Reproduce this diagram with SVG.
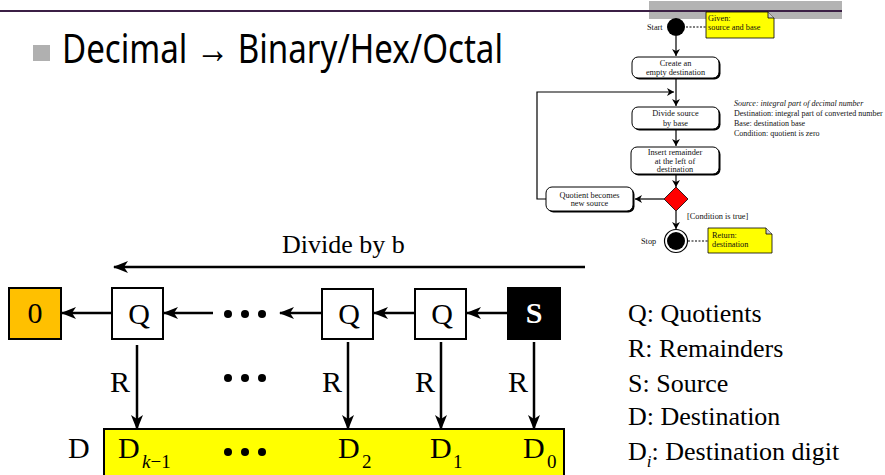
<svg xmlns="http://www.w3.org/2000/svg" width="885" height="475" viewBox="0 0 885 475">
  <style>
    .fc-text { font-family: "Liberation Serif", serif; font-size: 8.3px; fill: #111; }
    .fc-note { font-family: "Liberation Serif", serif; font-size: 8px; fill: #111; }
    .fc-box { fill: #fff; stroke: #000; stroke-width: 1; }
    .fc-shadow { fill: #000; }
    .fc-line { stroke: #000; stroke-width: 1.2; fill: none; }
    .note { fill: #ffff00; stroke: #000; stroke-width: 0.8; }
    .label { font-family: "Liberation Serif", serif; font-size: 26px; fill: #000; }
    .big { font-family: "Liberation Serif", serif; font-size: 30px; fill: #000; }
    .sub { font-family: "Liberation Serif", serif; font-size: 19px; fill: #000; }
    .box { fill: #fff; stroke: #000; stroke-width: 2; }
    .conn { stroke: #000; stroke-width: 2.5; fill: none; }
    .dot { fill: #000; }
  </style>
  <defs>
    <marker id="arrow" markerUnits="userSpaceOnUse" markerWidth="15" markerHeight="12" refX="14" refY="6" orient="auto">
      <path d="M0,0 L15,6 L0,12 L4,6 z" fill="#000"/>
    </marker>
    <marker id="fcArrow" markerUnits="userSpaceOnUse" markerWidth="8" markerHeight="8" refX="7" refY="4" orient="auto">
      <path d="M0,0 L7,4 L0,8 L2,4 z" fill="#000"/>
    </marker>
  </defs>

  <rect width="885" height="475" fill="#fff"/>

  <!-- header band -->
  <rect x="649" y="1" width="193" height="18" fill="#b3b3b3"/>
  <line x1="0" y1="11" x2="842" y2="11" stroke="#3b1f45" stroke-width="2"/>

  <!-- title -->
  <rect x="33" y="45" width="17" height="16" fill="#b0b0b0"/>
  <text x="62" y="63" font-family="'Noto Sans', sans-serif" font-size="40" textLength="441" lengthAdjust="spacingAndGlyphs" fill="#000">Decimal → Binary/Hex/Octal</text>

  <!-- flowchart -->
  <g id="fc-connectors">
    <line class="fc-line" x1="686" y1="27" x2="706" y2="27" stroke-dasharray="2,1.5"/>
    <line class="fc-line" x1="676" y1="36" x2="676" y2="56" marker-end="url(#fcArrow)"/>
    <line class="fc-line" x1="676" y1="79" x2="676" y2="106" marker-end="url(#fcArrow)"/>
    <polyline class="fc-line" points="546,199 537,199 537,92 674,92" marker-end="url(#fcArrow)"/>
    <line class="fc-line" x1="676" y1="130" x2="676" y2="146" marker-end="url(#fcArrow)"/>
    <line class="fc-line" x1="676" y1="175" x2="676" y2="187" marker-end="url(#fcArrow)"/>
    <line class="fc-line" x1="664" y1="199" x2="635" y2="199" marker-end="url(#fcArrow)"/>
    <line class="fc-line" x1="676" y1="211" x2="676" y2="229" marker-end="url(#fcArrow)"/>
    <line class="fc-line" x1="688" y1="241" x2="708" y2="241" stroke-dasharray="2,1.5"/>
  </g>

  <g id="fc-start">
    <circle cx="676" cy="27" r="9" fill="#000"/>
    <text class="fc-text" x="647" y="30">Start</text>
  </g>
  <g id="fc-note-given">
    <path class="note" d="M706,12 L768,12 L774,18 L774,38 L706,38 z"/>
    <path d="M768,12 L768,18 L774,18" fill="#ccc" stroke="#000" stroke-width="0.8"/>
    <text class="fc-text" x="708" y="21">Given:</text>
    <text class="fc-text" x="708" y="30">source and base</text>
  </g>
  <g id="fc-create">
    <rect class="fc-shadow" x="633.5" y="58.5" width="87" height="21" rx="6"/>
    <rect class="fc-box" x="632" y="57" width="87" height="21" rx="6"/>
    <text class="fc-text" x="675.5" y="66" text-anchor="middle">Create an</text>
    <text class="fc-text" x="675.5" y="75" text-anchor="middle">empty destination</text>
  </g>
  <g id="fc-divide">
    <rect class="fc-shadow" x="633.5" y="108.5" width="87" height="22" rx="6"/>
    <rect class="fc-box" x="632" y="107" width="87" height="22" rx="6"/>
    <text class="fc-text" x="675.5" y="116" text-anchor="middle">Divide source</text>
    <text class="fc-text" x="675.5" y="126" text-anchor="middle">by base</text>
  </g>
  <g id="fc-insert">
    <rect class="fc-shadow" x="632.5" y="148.5" width="88" height="27" rx="6"/>
    <rect class="fc-box" x="631" y="147" width="88" height="27" rx="6"/>
    <text class="fc-text" x="675" y="155" text-anchor="middle">Insert remainder</text>
    <text class="fc-text" x="675" y="163.5" text-anchor="middle">at the left of</text>
    <text class="fc-text" x="675" y="172" text-anchor="middle">destination</text>
  </g>
  <g id="fc-decision">
    <polygon points="676,187 688,199 676,211 664,199" fill="#ff0000" stroke="#000" stroke-width="0.8"/>
    <text class="fc-text" x="687" y="219">[Condition is true]</text>
  </g>
  <g id="fc-quotient">
    <rect class="fc-shadow" x="547.5" y="188.5" width="87" height="24" rx="6"/>
    <rect class="fc-box" x="546" y="187" width="87" height="24" rx="6"/>
    <text class="fc-text" x="589.5" y="197.5" text-anchor="middle">Quotient becomes</text>
    <text class="fc-text" x="589.5" y="205.5" text-anchor="middle">new source</text>
  </g>
  <g id="fc-stop">
    <circle cx="676" cy="241" r="11.5" fill="#fff" stroke="#000" stroke-width="1.2"/>
    <circle cx="676" cy="241" r="9" fill="#000"/>
    <text class="fc-text" x="641" y="244">Stop</text>
  </g>
  <g id="fc-note-return">
    <path class="note" d="M708,228 L766,228 L772,234 L772,253 L708,253 z"/>
    <path d="M766,228 L766,234 L772,234" fill="#ccc" stroke="#000" stroke-width="0.8"/>
    <text class="fc-text" x="712" y="238">Return:</text>
    <text class="fc-text" x="712" y="247">destination</text>
  </g>
  <g id="fc-legend">
    <text class="fc-note" x="734" y="106" font-style="italic">Source: integral part of decimal number</text>
    <text class="fc-note" x="734" y="116">Destination: integral part of converted number</text>
    <text class="fc-note" x="734" y="126">Base: destination base</text>
    <text class="fc-note" x="734" y="136">Condition: quotient is zero</text>
  </g>

  <!-- division diagram -->
  <g id="connectors">
    <line class="conn" x1="585" y1="267" x2="114" y2="267" marker-end="url(#arrow)"/>
    <line class="conn" x1="112" y1="313" x2="62" y2="313" marker-end="url(#arrow)"/>
    <line class="conn" x1="213" y1="313" x2="164" y2="313" marker-end="url(#arrow)"/>
    <line class="conn" x1="322" y1="313" x2="280" y2="313" marker-end="url(#arrow)"/>
    <line class="conn" x1="415" y1="313" x2="374" y2="313" marker-end="url(#arrow)"/>
    <line class="conn" x1="508" y1="313" x2="467" y2="313" marker-end="url(#arrow)"/>
    <line class="conn" x1="137" y1="345" x2="137" y2="429" marker-end="url(#arrow)"/>
    <line class="conn" x1="348" y1="342" x2="348" y2="429" marker-end="url(#arrow)"/>
    <line class="conn" x1="441" y1="342" x2="441" y2="429" marker-end="url(#arrow)"/>
    <line class="conn" x1="534" y1="342" x2="534" y2="429" marker-end="url(#arrow)"/>
  </g>

  <text class="label" x="282" y="253">Divide by b</text>

  <g id="zero">
    <rect x="9" y="288" width="52" height="51" fill="#ffc000" stroke="#000" stroke-width="2"/>
    <text class="big" x="35" y="323" text-anchor="middle">0</text>
  </g>
  <g id="q1">
    <rect class="box" x="112" y="288" width="51" height="51"/>
    <text class="big" x="139" y="324" text-anchor="middle">Q</text>
  </g>
  <g id="q2">
    <rect class="box" x="322" y="289" width="51" height="50"/>
    <text class="big" x="349" y="324" text-anchor="middle">Q</text>
  </g>
  <g id="q3">
    <rect class="box" x="415" y="289" width="51" height="50"/>
    <text class="big" x="442" y="324" text-anchor="middle">Q</text>
  </g>
  <g id="source">
    <rect x="508" y="288" width="52" height="51" fill="#000" stroke="#000" stroke-width="2"/>
    <text class="big" x="534" y="323" text-anchor="middle" font-weight="bold" style="fill:#fff">S</text>
  </g>

  <g id="dots">
    <circle class="dot" cx="228" cy="314" r="4"/>
    <circle class="dot" cx="245" cy="314" r="4"/>
    <circle class="dot" cx="262" cy="314" r="4"/>
    <circle class="dot" cx="228" cy="378" r="4"/>
    <circle class="dot" cx="245" cy="378" r="4"/>
    <circle class="dot" cx="262" cy="378" r="4"/>
  </g>

  <g id="r-labels">
    <text class="big" x="110" y="392">R</text>
    <text class="big" x="322" y="392">R</text>
    <text class="big" x="415" y="392">R</text>
    <text class="big" x="508" y="392">R</text>
  </g>

  <g id="destination">
    <rect x="104" y="429" width="460" height="50" fill="#ffff00" stroke="#000" stroke-width="2"/>
    <text class="big" x="68" y="458">D</text>
    <text class="big" x="118" y="458">D</text>
    <text class="sub" x="142" y="468"><tspan font-style="italic">k</tspan>−1</text>
    <circle class="dot" cx="228" cy="452" r="4"/>
    <circle class="dot" cx="245" cy="452" r="4"/>
    <circle class="dot" cx="262" cy="452" r="4"/>
    <text class="big" x="338" y="458">D</text>
    <text class="sub" x="362" y="468">2</text>
    <text class="big" x="430" y="458">D</text>
    <text class="sub" x="453" y="468">1</text>
    <text class="big" x="523" y="458">D</text>
    <text class="sub" x="547" y="468">0</text>
  </g>

  <g id="legend">
    <text class="label" x="628" y="322">Q: Quotients</text>
    <text class="label" x="628" y="357">R: Remainders</text>
    <text class="label" x="628" y="392">S: Source</text>
    <text class="label" x="628" y="425">D: Destination</text>
    <text class="label" x="628" y="460">D<tspan font-size="17" font-style="italic" dy="7">i</tspan><tspan dy="-7">: Destination digit</tspan></text>
  </g>
</svg>
